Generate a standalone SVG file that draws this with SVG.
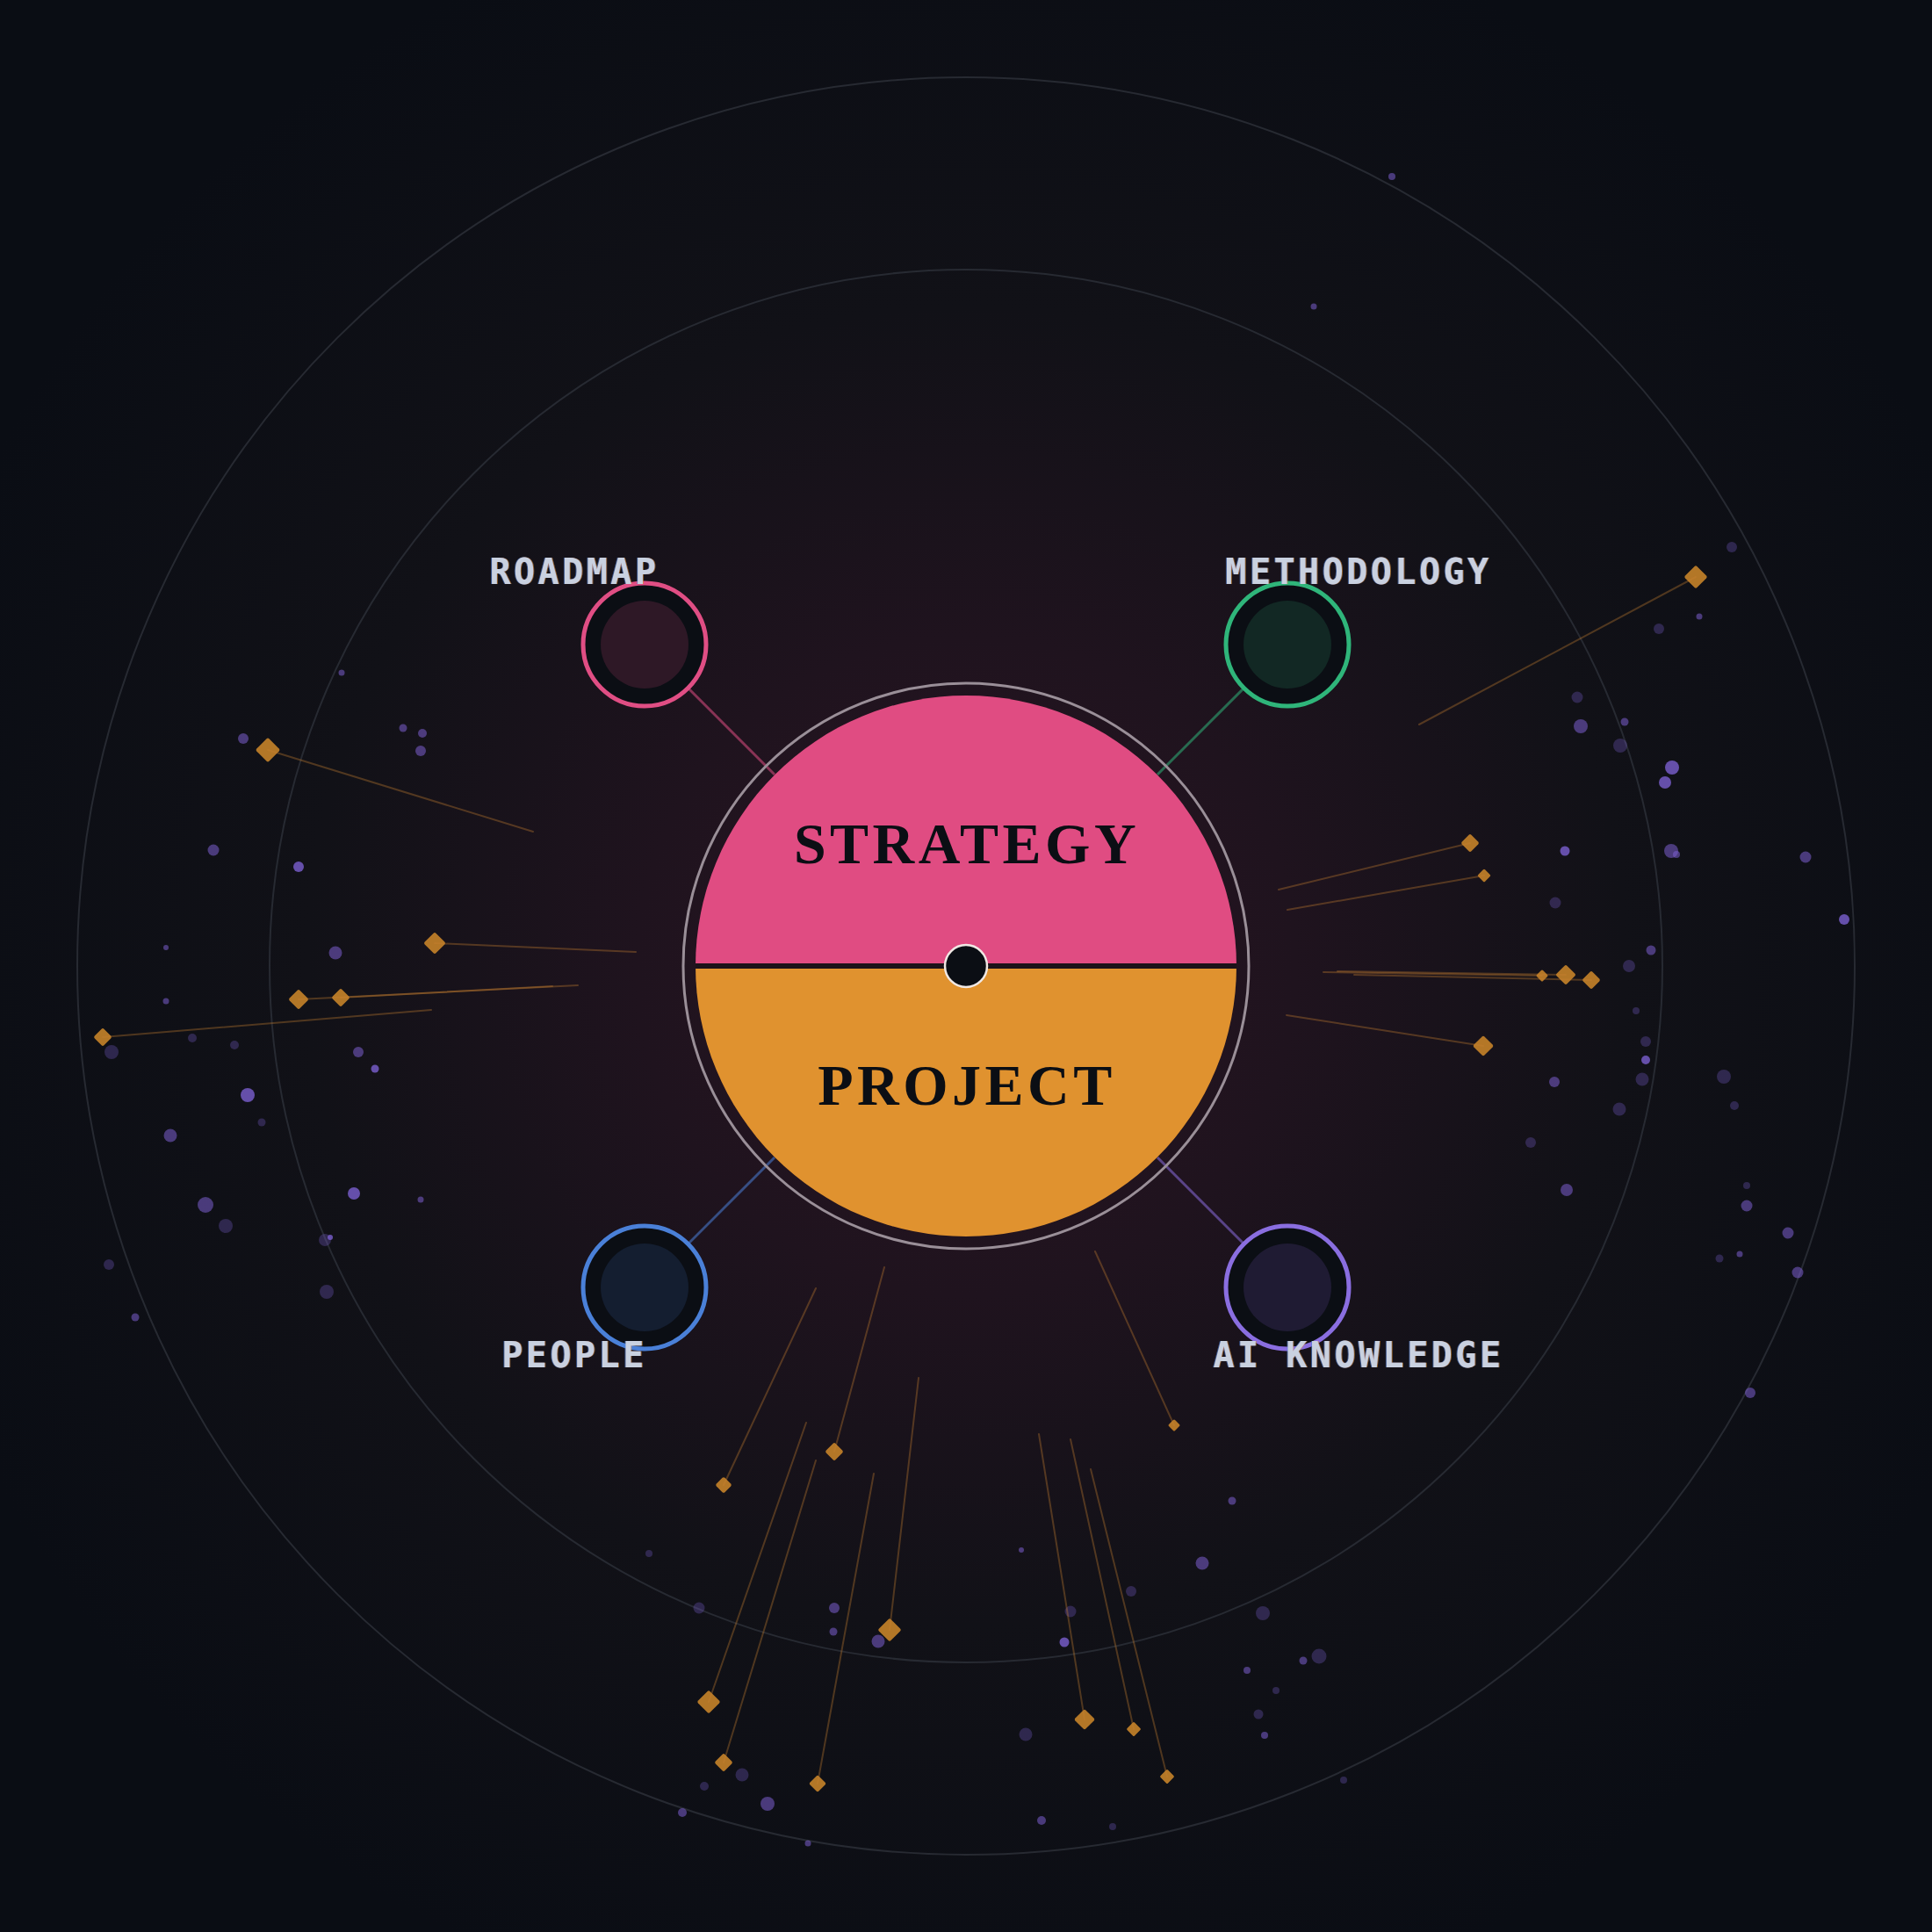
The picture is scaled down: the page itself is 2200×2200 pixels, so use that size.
<svg xmlns="http://www.w3.org/2000/svg" xmlns:xlink="http://www.w3.org/1999/xlink" width="2200" height="2200" viewBox="0 0 2200 2200">
<defs>
<radialGradient id="bg" cx="1100" cy="1100" r="1250" gradientUnits="userSpaceOnUse">
<stop offset="0" stop-color="#2a1522"/>
<stop offset="0.3" stop-color="#1f131e"/>
<stop offset="0.6" stop-color="#111117"/>
<stop offset="1" stop-color="#0a0d14"/>
</radialGradient>
<filter id="ca" x="-5%" y="-30%" width="110%" height="160%">
<feFlood flood-color="#4a80d8" flood-opacity="0.6" result="b"/>
<feComposite in="b" in2="SourceAlpha" operator="in" result="bs"/>
<feOffset in="bs" dx="-1.2" result="bo"/>
<feFlood flood-color="#e0922f" flood-opacity="0.6" result="o"/>
<feComposite in="o" in2="SourceAlpha" operator="in" result="os"/>
<feOffset in="os" dx="1.2" result="oo"/>
<feMerge><feMergeNode in="bo"/><feMergeNode in="oo"/><feMergeNode in="SourceGraphic"/></feMerge>
</filter>
<rect id="d10" x="-5" y="-5" width="10" height="10" rx="1.5" transform="rotate(45)"/>
<rect id="d11" x="-5.5" y="-5.5" width="11" height="11" rx="1.5" transform="rotate(45)"/>
<rect id="d12" x="-6" y="-6" width="12" height="12" rx="1.5" transform="rotate(45)"/>
<rect id="d13" x="-6.75" y="-6.75" width="13.5" height="13.5" rx="2" transform="rotate(45)"/>
<rect id="d14" x="-7" y="-7" width="14" height="14" rx="2" transform="rotate(45)"/>
<rect id="d15" x="-7.5" y="-7.5" width="15" height="15" rx="2" transform="rotate(45)"/>
<rect id="d16" x="-8.25" y="-8.25" width="16.5" height="16.5" rx="2" transform="rotate(45)"/>
<rect id="d17" x="-8.5" y="-8.5" width="17" height="17" rx="2" transform="rotate(45)"/>
<rect id="d18" x="-9" y="-9" width="18" height="18" rx="2" transform="rotate(45)"/>
<rect id="d19" x="-9.5" y="-9.5" width="19" height="19" rx="2" transform="rotate(45)"/>
<rect id="d20" x="-10" y="-10" width="20" height="20" rx="2" transform="rotate(45)"/>
<style>
.ring{fill:none;stroke:#272a32;stroke-width:2}
.spark line{stroke:#c88030;stroke-opacity:0.35;stroke-width:2;stroke-linecap:round}
.spark use{fill:#d08a2a;fill-opacity:0.85}
.dust circle{fill:#7b5fd0}
.dust .b{fill-opacity:0.8}
.dust .m{fill-opacity:0.55}
.dust .d{fill-opacity:0.3}
.conn{stroke-width:3;stroke-opacity:0.55;fill:none}
.sat-ring{fill:#0b0e14;stroke-width:5}
.lbl{font-family:"DejaVu Sans Mono","Liberation Mono",monospace;font-weight:bold;font-size:40px;letter-spacing:3.5px;fill:#c9d1e0;text-anchor:middle}
.core-t{font-family:"Liberation Serif","Times New Roman",serif;font-weight:bold;font-size:66px;letter-spacing:4.5px;fill:#0b0e14;text-anchor:middle}
</style>
</defs>

<g id="background">
<rect width="2200" height="2200" fill="url(#bg)"/>
<circle class="ring" cx="1100" cy="1100" r="1012"/>
<circle class="ring" cx="1100" cy="1100" r="793"/>
</g>

<g id="dust" class="dust">
<circle class="m" cx="1585" cy="201" r="4"/>
<circle class="m" cx="1496" cy="349" r="3.5"/>
<circle class="d" cx="1972" cy="623" r="6"/>
<circle class="m" cx="1935" cy="702" r="3.5"/>
<circle class="d" cx="1889" cy="716" r="6"/>
<circle class="d" cx="1796" cy="794" r="6.5"/>
<circle class="m" cx="1800" cy="827" r="8"/>
<circle class="m" cx="1850" cy="822" r="4.5"/>
<circle class="d" cx="1845" cy="849" r="8"/>
<circle class="b" cx="1904" cy="874" r="8"/>
<circle class="b" cx="1896" cy="891" r="7"/>
<circle class="b" cx="1782" cy="969" r="5.5"/>
<circle class="m" cx="1903" cy="969" r="8"/>
<circle class="m" cx="1909" cy="973" r="4"/>
<circle class="m" cx="2056" cy="976" r="6.5"/>
<circle class="d" cx="1771" cy="1028" r="6.5"/>
<circle class="b" cx="2100" cy="1047" r="6"/>
<circle class="m" cx="1880" cy="1082" r="5.5"/>
<circle class="d" cx="1855" cy="1100" r="7"/>
<circle class="d" cx="1863" cy="1151" r="4"/>
<circle class="d" cx="1874" cy="1186" r="6"/>
<circle class="b" cx="1874" cy="1207" r="5"/>
<circle class="d" cx="1870" cy="1229" r="7.5"/>
<circle class="m" cx="1770" cy="1232" r="6"/>
<circle class="d" cx="1844" cy="1263" r="7.5"/>
<circle class="d" cx="1743" cy="1301" r="6"/>
<circle class="m" cx="1784" cy="1355" r="7"/>
<circle class="d" cx="1963" cy="1226" r="8"/>
<circle class="d" cx="1975" cy="1259" r="5"/>
<circle class="d" cx="1989" cy="1350" r="4"/>
<circle class="m" cx="1989" cy="1373" r="6.5"/>
<circle class="m" cx="2036" cy="1404" r="6.5"/>
<circle class="d" cx="1958" cy="1433" r="4.5"/>
<circle class="m" cx="1981" cy="1428" r="3.5"/>
<circle class="m" cx="2047" cy="1449" r="6.5"/>
<circle class="m" cx="1993" cy="1586" r="6"/>
<circle class="d" cx="739" cy="1769" r="4"/>
<circle class="d" cx="796" cy="1831" r="6.5"/>
<circle class="m" cx="950" cy="1831" r="6"/>
<circle class="m" cx="949" cy="1858" r="4.5"/>
<circle class="m" cx="1000" cy="1869" r="7.5"/>
<circle class="d" cx="845" cy="2021" r="7.5"/>
<circle class="d" cx="802" cy="2034" r="5"/>
<circle class="m" cx="874" cy="2054" r="8"/>
<circle class="m" cx="777" cy="2064" r="5"/>
<circle class="m" cx="920" cy="2099" r="3.5"/>
<circle class="m" cx="1403" cy="1709" r="4.5"/>
<circle class="m" cx="1163" cy="1765" r="3"/>
<circle class="m" cx="1369" cy="1780" r="7.5"/>
<circle class="d" cx="1288" cy="1812" r="6"/>
<circle class="d" cx="1219" cy="1835" r="6.5"/>
<circle class="b" cx="1212" cy="1870" r="5.5"/>
<circle class="d" cx="1438" cy="1837" r="8"/>
<circle class="d" cx="1502" cy="1886" r="8.5"/>
<circle class="m" cx="1484" cy="1891" r="4.5"/>
<circle class="m" cx="1420" cy="1902" r="4"/>
<circle class="d" cx="1453" cy="1925" r="4"/>
<circle class="d" cx="1433" cy="1952" r="5.5"/>
<circle class="m" cx="1440" cy="1976" r="4"/>
<circle class="d" cx="1168" cy="1975" r="7.5"/>
<circle class="d" cx="1530" cy="2027" r="4"/>
<circle class="m" cx="1186" cy="2073" r="5"/>
<circle class="d" cx="1267" cy="2080" r="4"/>
<circle class="m" cx="389" cy="766" r="3.5"/>
<circle class="m" cx="277" cy="841" r="6"/>
<circle class="m" cx="459" cy="829" r="4.5"/>
<circle class="m" cx="481" cy="835" r="5"/>
<circle class="m" cx="479" cy="855" r="6"/>
<circle class="m" cx="243" cy="968" r="6.5"/>
<circle class="b" cx="340" cy="987" r="6"/>
<circle class="m" cx="189" cy="1079" r="3"/>
<circle class="m" cx="382" cy="1085" r="7.5"/>
<circle class="m" cx="189" cy="1140" r="3.5"/>
<circle class="d" cx="219" cy="1182" r="5"/>
<circle class="d" cx="127" cy="1198" r="8"/>
<circle class="d" cx="267" cy="1190" r="5"/>
<circle class="m" cx="408" cy="1198" r="6"/>
<circle class="b" cx="427" cy="1217" r="4.5"/>
<circle class="b" cx="282" cy="1247" r="8"/>
<circle class="d" cx="298" cy="1278" r="4.5"/>
<circle class="m" cx="194" cy="1293" r="7.5"/>
<circle class="b" cx="403" cy="1359" r="7"/>
<circle class="m" cx="479" cy="1366" r="3.5"/>
<circle class="m" cx="234" cy="1372" r="9"/>
<circle class="d" cx="257" cy="1396" r="8"/>
<circle class="d" cx="370" cy="1412" r="7"/>
<circle class="b" cx="376" cy="1409" r="3"/>
<circle class="d" cx="124" cy="1440" r="6"/>
<circle class="d" cx="372" cy="1471" r="8"/>
<circle class="m" cx="154" cy="1500" r="4.5"/>
</g>

<g id="sparks" class="spark">
<use href="#d20" x="305" y="854"/>
<use href="#d18" x="495" y="1074"/>
<use href="#d15" x="388" y="1136"/>
<use href="#d16" x="340" y="1138"/>
<use href="#d15" x="117" y="1181"/>
<use href="#d15" x="1674" y="960"/>
<use href="#d11" x="1690" y="997"/>
<use href="#d10" x="1756" y="1111"/>
<use href="#d16" x="1783" y="1110"/>
<use href="#d15" x="1812" y="1116"/>
<use href="#d17" x="1689" y="1191"/>
<use href="#d19" x="1931" y="657"/>
<use href="#d13" x="824" y="1691"/>
<use href="#d15" x="950" y="1653"/>
<use href="#d19" x="1013" y="1856"/>
<use href="#d19" x="807" y="1938"/>
<use href="#d15" x="824" y="2007"/>
<use href="#d14" x="931" y="2031"/>
<use href="#d10" x="1337" y="1623"/>
<use href="#d17" x="1235" y="1958"/>
<use href="#d12" x="1291" y="1969"/>
<use href="#d12" x="1329" y="2023"/>
<line x1="607" y1="947" x2="305" y2="854"/>
<line x1="724" y1="1084" x2="495" y2="1074"/>
<line x1="658" y1="1122" x2="340" y2="1138"/>
<line x1="629" y1="1123" x2="388" y2="1136"/>
<line x1="491" y1="1150" x2="117" y2="1181"/>
<line x1="1456" y1="1013" x2="1674" y2="960"/>
<line x1="1466" y1="1036" x2="1690" y2="997"/>
<line x1="1507" y1="1107" x2="1756" y2="1111"/>
<line x1="1523" y1="1106" x2="1783" y2="1110"/>
<line x1="1542" y1="1110" x2="1812" y2="1116"/>
<line x1="1465" y1="1156" x2="1689" y2="1191"/>
<line x1="1616" y1="825" x2="1931" y2="657"/>
<line x1="929" y1="1467" x2="824" y2="1691"/>
<line x1="1007" y1="1443" x2="950" y2="1653"/>
<line x1="1046" y1="1569" x2="1013" y2="1856"/>
<line x1="918" y1="1620" x2="807" y2="1938"/>
<line x1="929" y1="1663" x2="824" y2="2007"/>
<line x1="995" y1="1678" x2="931" y2="2031"/>
<line x1="1247" y1="1425" x2="1337" y2="1623"/>
<line x1="1183" y1="1633" x2="1235" y2="1958"/>
<line x1="1219" y1="1639" x2="1291" y2="1969"/>
<line x1="1242" y1="1673" x2="1329" y2="2023"/>
</g>

<g id="connectors">
<line class="conn" x1="734" y1="734" x2="882" y2="882" stroke="#e04e84"/>
<line class="conn" x1="1466" y1="734" x2="1318" y2="882" stroke="#2fb57a"/>
<line class="conn" x1="734" y1="1466" x2="882" y2="1318" stroke="#4a80d8"/>
<line class="conn" x1="1466" y1="1466" x2="1318" y2="1318" stroke="#8a6ee0"/>
</g>

<g id="node-core">
<circle cx="1100" cy="1100" r="322" fill="none" stroke="#9a8f98" stroke-width="3"/>
<path d="M792 1100 A308 308 0 0 1 1408 1100 Z" fill="#e04c82"/>
<path d="M792 1100 A308 308 0 0 0 1408 1100 Z" fill="#e0922f"/>
<line x1="792" y1="1100" x2="1408" y2="1100" stroke="#1c1219" stroke-width="6"/>
<circle cx="1100" cy="1100" r="24" fill="#0b0e14" stroke="#f0e8e4" stroke-width="2.5"/>
<text class="core-t" x="1101" y="983">STRATEGY</text>
<text class="core-t" x="1101" y="1258">PROJECT</text>
</g>

<g id="node-roadmap">
<circle class="sat-ring" cx="734" cy="734" r="70" stroke="#e04e84"/>
<circle cx="734" cy="734" r="50" fill="#2e1826"/>
<text class="lbl" x="654" y="665" filter="url(#ca)">ROADMAP</text>
</g>

<g id="node-methodology">
<circle class="sat-ring" cx="1466" cy="734" r="70" stroke="#2fb57a"/>
<circle cx="1466" cy="734" r="50" fill="#122824"/>
<text class="lbl" x="1547" y="665" filter="url(#ca)">METHODOLOGY</text>
</g>

<g id="node-people">
<circle class="sat-ring" cx="734" cy="1466" r="70" stroke="#4a80d8"/>
<circle cx="734" cy="1466" r="50" fill="#141e30"/>
<text class="lbl" x="654" y="1557" filter="url(#ca)">PEOPLE</text>
</g>

<g id="node-ai-knowledge">
<circle class="sat-ring" cx="1466" cy="1466" r="70" stroke="#8a6ee0"/>
<circle cx="1466" cy="1466" r="50" fill="#1f1b33"/>
<text class="lbl" x="1547" y="1557" filter="url(#ca)">AI KNOWLEDGE</text>
</g>
</svg>
